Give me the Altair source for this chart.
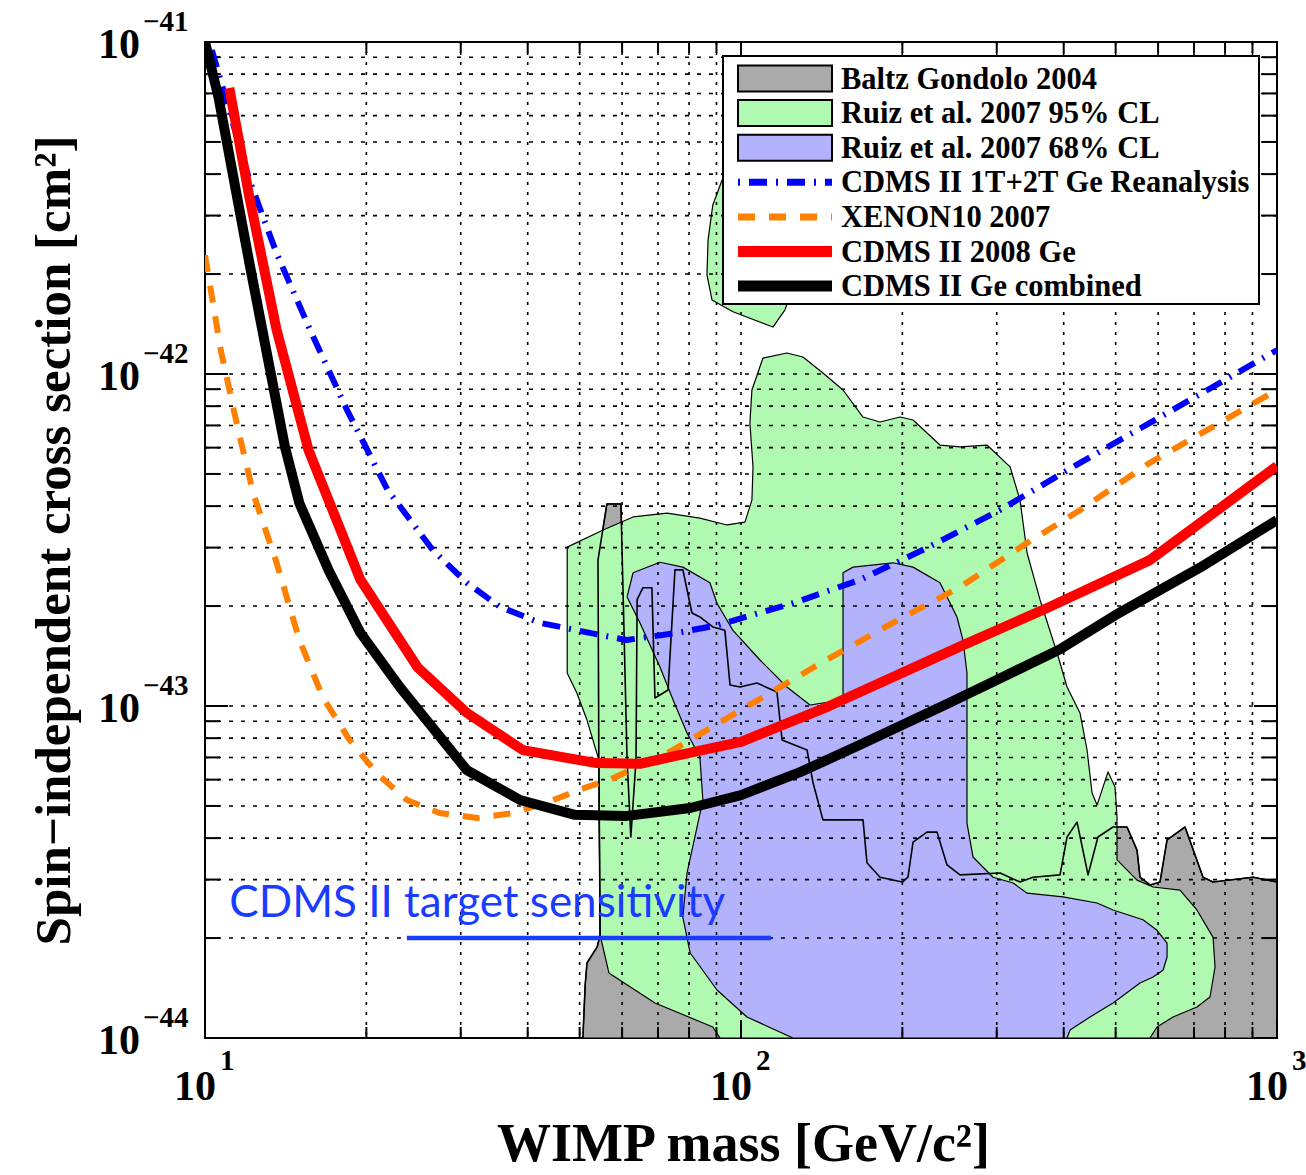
import altair as alt
import pandas as pd

# ---------------- data ----------------
# CDMS II Ge combined (black)
black_mass = [10, 10.6, 12.1, 14.1, 15.0, 17.0, 19.5, 23.1, 30.8, 38.7, 49, 60.8, 80.4, 100,
              128.9, 166.8, 240, 304, 393, 500, 718, 1000]
black_sigma = [1e-41, 6.8e-42, 2.16e-42, 6.03e-43, 4.08e-43, 2.57e-43, 1.66e-43, 1.14e-43, 6.41e-44,
               5.21e-44, 4.70e-44, 4.66e-44, 4.93e-44, 5.39e-44, 6.32e-44, 7.64e-44, 1.007e-43,
               1.21e-43, 1.48e-43, 1.88e-43, 2.61e-43, 3.63e-43]

# CDMS II 2008 Ge (red)
red_mass = [11.1, 12.1, 13.6, 15.6, 19.5, 24.9, 30.8, 39.2, 53.8, 64.8, 81.3, 100, 144.7, 256,
            377, 579, 1000]
red_sigma = [7.27e-42, 3.41e-42, 1.36e-42, 5.90e-43, 2.40e-43, 1.31e-43, 9.53e-44, 7.36e-44,
             6.73e-44, 6.70e-44, 7.26e-44, 7.80e-44, 9.93e-44, 1.51e-43, 1.99e-43, 2.75e-43, 5.28e-43]

# CDMS II 1T+2T Ge Reanalysis (blue dash-dot)
reana_mass = [10.3, 12.1, 13.6, 15.7, 18.4, 21.9, 26.6, 30.8, 35.5, 42.2, 52.2, 61.2, 76.0, 90.2,
              125, 166.8, 222, 304, 429, 579, 1000]
reana_sigma = [9.46e-42, 3.84e-42, 2.31e-42, 1.36e-42, 7.80e-43, 4.48e-43, 2.95e-43, 2.35e-43,
               1.99e-43, 1.78e-43, 1.66e-43, 1.58e-43, 1.66e-43, 1.75e-43, 2.04e-43, 2.40e-43,
               2.99e-43, 3.89e-43, 5.40e-43, 7.12e-43, 1.18e-42]

# XENON10 2007 (orange dashed)
xenon_mass = [10, 10.7, 11.5, 12.3, 13.6, 15.0, 16.6, 18.6, 20.9, 23.8, 27.4, 32.2, 37.6, 44.6,
              51.6, 57.0, 74.6, 100, 144.7, 192, 256, 342, 429, 579, 1000]
xenon_sigma = [2.28e-42, 1.18e-42, 6.92e-43, 4.38e-43, 2.70e-43, 1.58e-43, 1.06e-43, 7.91e-44,
               6.28e-44, 5.21e-44, 4.76e-44, 4.60e-44, 4.76e-44, 5.21e-44, 5.70e-44, 6.0e-44,
               7.36e-44, 9.73e-44, 1.38e-43, 1.78e-43, 2.28e-43, 3.10e-43, 3.89e-43, 5.40e-43, 8.95e-43]

# Ruiz et al. 2007 95% CL (green) main region and small island
green_mass = [47.4, 55.3, 62.9, 72.8, 83.8, 94.2, 101.7, 104.8, 105.3, 103.9, 104.8, 109.9, 121.8,
              130.5, 142.2, 155.0, 168.9, 181.7, 198.1, 209.4, 235.1, 256.2, 287.7, 317.7, 331.6,
              341.8, 361.3, 388.8, 405.8, 429.0, 442.2, 451.8, 461.6, 483.9, 498.7, 502.9, 502.9,
              548.1, 587.1, 659.2, 708.8, 759.8, 766.3, 749.9, 708.8, 639.7, 597.2, 579.4, 91.4,
              88.6, 69.1, 56.7, 54.6, 54.3, 51.6, 49.4, 47.4]
green_sigma = [3.01e-43, 3.39e-43, 3.71e-43, 3.81e-43, 3.68e-43, 3.51e-43, 3.58e-43, 4.17e-43,
               5.25e-43, 7.12e-43, 8.95e-43, 1.117e-42, 1.157e-42, 1.125e-42, 1.007e-42, 8.95e-43,
               7.42e-43, 7.17e-43, 7.42e-43, 7.27e-43, 6.11e-43, 6.03e-43, 6.11e-43, 5.25e-43,
               4.17e-43, 2.89e-43, 2.09e-43, 1.444e-43, 1.141e-43, 9.53e-44, 7.37e-44, 5.47e-44,
               5.03e-44, 6.33e-44, 5.70e-44, 4.63e-44, 3.44e-44, 2.99e-44, 2.85e-44, 2.79e-44,
               2.43e-44, 2.01e-44, 1.636e-44, 1.329e-44, 1.240e-44, 1.157e-44, 1.079e-44, 1e-44,
               1e-44, 1.079e-44, 1.275e-44, 1.570e-44, 2.04e-44, 6.88e-44, 9.07e-44, 1.094e-43,
               1.257e-43]
island_mass = [92.2, 88.6, 86.8, 86.4, 88.3, 96.6, 114.7, 120.8, 126.1, 123.4, 108.5]
island_sigma = [3.84e-42, 3.23e-42, 2.53e-42, 1.99e-42, 1.67e-42, 1.54e-42, 1.385e-42, 1.56e-42,
                1.92e-42, 2.91e-42, 3.84e-42]

# Ruiz et al. 2007 68% CL (blue region)
blue_mass = [61.3, 62.9, 70.6, 77.9, 87.5, 90.2, 96.6, 108.5, 121.8, 134.5, 155.0, 155.0, 161.8,
             192.1, 209.4, 235.1, 252.9, 259.5, 264.0, 264.0, 264.0, 270.9, 295.3, 321.8, 341.8,
             398.8, 461.6, 494.4, 562.3, 597.2, 623.6, 623.6, 612.9, 587.1, 555.2, 494.4, 447.9,
             411.1, 405.8, 125.0, 102.6, 90.2, 80.4, 77.9, 79.3, 84.9, 83.8, 79.3, 74.7, 70.6, 64.8]
blue_sigma = [2.13e-43, 2.52e-43, 2.71e-43, 2.62e-43, 2.35e-43, 2.04e-43, 1.69e-43, 1.376e-43,
              1.141e-43, 1.007e-43, 1.043e-43, 2.52e-43, 2.62e-43, 2.70e-43, 2.62e-43, 2.35e-43,
              1.854e-43, 1.58e-43, 1.257e-43, 6.88e-44, 4.44e-44, 3.51e-44, 3.05e-44, 2.93e-44,
              2.73e-44, 2.66e-44, 2.55e-44, 2.43e-44, 2.27e-44, 2.11e-44, 1.93e-44, 1.754e-44,
              1.60e-44, 1.526e-44, 1.465e-44, 1.275e-44, 1.157e-44, 1.057e-44, 1e-44, 1e-44,
              1.157e-44, 1.395e-44, 1.803e-44, 2.31e-44, 3.14e-44, 5.21e-44, 7.02e-44, 8.29e-44,
              1.043e-43, 1.311e-43, 1.778e-43]

# Baltz Gondolo 2004 (gray region)
baltz_mass = [50.7, 51.2, 51.6, 53.9, 54.6, 54.3, 54.1, 56.2, 59.7, 60.3, 61.3, 62.3, 63.7, 64.0,
              65.6, 68.2, 69.1, 73.1, 75.3, 77.9, 81.0, 83.8, 88.6, 93.3, 95.4, 99.6, 107.1, 116.7,
              119.3, 132.8, 136.3, 142.2, 168.9, 171.8, 181.7, 200, 204.9, 209.4, 222.3, 232.1,
              242.3, 256.2, 304.3, 331.6, 350.6, 393.7, 405.8, 423.6, 444.1, 463.4, 494.4, 525.0,
              548.1, 555.2, 579.4, 604.9, 623.6, 673.6, 727.7, 759.8, 902.4, 1000, 1000]
baltz_sigma = [1e-44, 1.444e-44, 1.682e-44, 1.88e-44, 2.04e-44, 6.88e-44, 2.75e-43, 4.06e-43,
               4.06e-43, 2.09e-43, 6.88e-44, 4.03e-44, 6.88e-44, 2.09e-43, 2.27e-43, 2.27e-43,
               1.057e-43, 1.117e-43, 2.57e-43, 2.57e-43, 1.906e-43, 1.854e-43, 1.73e-43, 1.69e-43,
               1.157e-43, 1.141e-43, 1.173e-43, 1.102e-43, 7.90e-44, 7.37e-44, 5.86e-44, 4.54e-44,
               4.54e-44, 3.37e-44, 3.05e-44, 2.95e-44, 3.05e-44, 3.89e-44, 4.17e-44, 4.17e-44,
               3.32e-44, 3.10e-44, 3.14e-44, 2.95e-44, 3.05e-44, 3.10e-44, 4.03e-44, 4.47e-44,
               3.10e-44, 4.03e-44, 4.32e-44, 4.32e-44, 3.68e-44, 3.05e-44, 2.89e-44, 2.95e-44,
               3.95e-44, 4.32e-44, 3.05e-44, 2.95e-44, 3.05e-44, 2.95e-44, 1e-44]

# annotation
target_label = ["CDMS II target sensitivity"]
target_label_mass = [11.1]
target_label_sigma = [2.31e-44]
target_mass = [23.8, 113.7]
target_sigma = [2e-44, 2e-44]

# axes
x_major = [10, 100, 1000]
x_major_exp = ["1", "2", "3"]
x_minor = [20, 30, 40, 50, 60, 70, 80, 90, 200, 300, 400, 500, 600, 700, 800, 900]
y_major = [1e-44, 1e-43, 1e-42, 1e-41]
y_major_exp = ["\u221244", "\u221243", "\u221242", "\u221241"]
y_minor = [k * 10.0 ** e for e in (-44, -43, -42) for k in range(2, 10)]

legend_labels = ["Baltz Gondolo 2004", "Ruiz et al. 2007 95% CL", "Ruiz et al. 2007 68% CL",
                 "CDMS II 1T+2T Ge Reanalysis", "XENON10 2007", "CDMS II 2008 Ge",
                 "CDMS II Ge combined"]

# ---------------- styling ----------------
W, H = 1072, 996
SERIF = "Liberation Serif"
GRAY, GREEN, LBLUE = "#aaaaaa", "#b0f9b0", "#b2b2fd"
ORANGE, DBLUE, ANNO = "#ff8000", "#0000ff", "#1a3cff"
DASHDOT = [18, 9, 2, 9]
DASHED = [17, 14]

xscale = alt.Scale(type="log", domain=[10, 1000], nice=False)
yscale = alt.Scale(type="log", domain=[1e-44, 1e-41], nice=False)
xaxis = alt.Axis(title="WIMP mass [GeV/c\u00b2]", labels=False, ticks=False, domain=False,
                 grid=False, titleFont=SERIF, titleFontSize=54, titleFontWeight="bold",
                 titleColor="black", titleX=W / 2 + 2, titleY=122, titleBaseline="alphabetic",
                 titleAlign="center")
yaxis = alt.Axis(title="Spin\u2212independent cross section [cm\u00b2]", labels=False,
                 ticks=False, domain=False, grid=False, titleFont=SERIF, titleFontSize=51,
                 titleFontWeight="bold", titleColor="black", titleX=-136, titleY=H / 2,
                 titleAngle=270, titleBaseline="alphabetic", titleAlign="center")


def X():
    return alt.X("mass:Q", scale=xscale, axis=xaxis)


def Y():
    return alt.Y("sigma:Q", scale=yscale, axis=yaxis)


def frame(m, s, close=False):
    m, s = list(m), list(s)
    if close:
        m, s = m + m[:1], s + s[:1]
    return pd.DataFrame({"mass": m, "sigma": s, "idx": range(len(m))})


def polygon(m, s, fill, sw=1.2):
    return alt.Chart(frame(m, s, True)).mark_line(
        fill=fill, stroke="black", strokeWidth=sw, clip=True, strokeJoin="round"
    ).encode(x=X(), y=Y(), order="idx:Q")


def outline(m, s, sw=1.6):
    return alt.Chart(frame(m, s)).mark_line(
        stroke="black", strokeWidth=sw, clip=True, strokeJoin="round"
    ).encode(x=X(), y=Y(), order="idx:Q")


def curve(m, s, color, width, dash=None):
    kw = dict(color=color, strokeWidth=width, clip=True, strokeCap="butt", strokeJoin="round")
    if dash:
        kw["strokeDash"] = dash
    return alt.Chart(frame(m, s)).mark_line(**kw).encode(x=X(), y=Y(), order="idx:Q")


layers = []
# filled regions
layers.append(polygon(baltz_mass, baltz_sigma, GRAY))
layers.append(polygon(green_mass, green_sigma, GREEN))
layers.append(polygon(island_mass, island_sigma, GREEN))
layers.append(polygon(blue_mass, blue_sigma, LBLUE))
layers.append(outline(baltz_mass, baltz_sigma))

# grid lines
layers.append(alt.Chart(pd.DataFrame({"mass": x_minor + [100]})).mark_rule(
    color="black", strokeWidth=1.6, strokeDash=[3, 7]).encode(
    x=X(), y=alt.value(0), y2=alt.value(H)))
layers.append(alt.Chart(pd.DataFrame({"sigma": y_minor + [1e-43, 1e-42]})).mark_rule(
    color="black", strokeWidth=1.6, strokeDash=[4, 8]).encode(
    y=Y(), x=alt.value(0), x2=alt.value(W)))

# inward ticks on all four sides
for vals, ln in ((x_major, 18), (x_minor, 11)):
    d = pd.DataFrame({"mass": vals})
    layers.append(alt.Chart(d).mark_rule(color="black", strokeWidth=2).encode(
        x=X(), y=alt.value(H), y2=alt.value(H - ln)))
    layers.append(alt.Chart(d).mark_rule(color="black", strokeWidth=2).encode(
        x=X(), y=alt.value(0), y2=alt.value(ln)))
for vals, ln in ((y_major, 23), (y_minor, 15)):
    d = pd.DataFrame({"sigma": vals})
    layers.append(alt.Chart(d).mark_rule(color="black", strokeWidth=2).encode(
        y=Y(), x=alt.value(0), x2=alt.value(ln)))
    layers.append(alt.Chart(d).mark_rule(color="black", strokeWidth=2).encode(
        y=Y(), x=alt.value(W - ln), x2=alt.value(W)))

# limit curves
layers.append(curve(reana_mass, reana_sigma, DBLUE, 6, DASHDOT))
layers.append(curve(xenon_mass, xenon_sigma, ORANGE, 6, DASHED))
layers.append(curve(red_mass, red_sigma, "#ff0000", 10))
layers.append(curve(black_mass, black_sigma, "#000000", 10))

# annotation
layers.append(alt.Chart(pd.DataFrame({"mass": target_mass, "sigma": target_sigma})).mark_line(
    color=ANNO, strokeWidth=4.5, strokeCap="butt").encode(x=X(), y=Y()))
layers.append(alt.Chart(pd.DataFrame({"mass": target_label_mass, "sigma": target_label_sigma,
                                      "t": target_label})).mark_text(
    font="Lato", fontSize=44, color=ANNO, align="left", baseline="alphabetic").encode(
    x=X(), y=Y(), text="t:N"))

# tick labels (10 with superscript exponent)
ylab = pd.DataFrame({"sigma": y_major, "b": ["10"] * 4, "e": y_major_exp})
layers.append(alt.Chart(ylab).mark_text(font=SERIF, fontSize=42, fontWeight="bold", color="black",
                                        align="right", baseline="alphabetic", dy=16).encode(
    y=Y(), x=alt.value(-65), text="b:N"))
layers.append(alt.Chart(ylab).mark_text(font=SERIF, fontSize=29, fontWeight="bold", color="black",
                                        align="left", baseline="alphabetic", dy=-11).encode(
    y=Y(), x=alt.value(-62), text="e:N"))
xlab = pd.DataFrame({"mass": x_major, "b": ["10"] * 3, "e": x_major_exp})
layers.append(alt.Chart(xlab).mark_text(font=SERIF, fontSize=42, fontWeight="bold", color="black",
                                        align="center", baseline="alphabetic", dx=-10).encode(
    x=X(), y=alt.value(H + 62), text="b:N"))
layers.append(alt.Chart(xlab).mark_text(font=SERIF, fontSize=29, fontWeight="bold", color="black",
                                        align="left", baseline="alphabetic", dx=15).encode(
    x=X(), y=alt.value(H + 32), text="e:N"))

# legend (drawn by hand inside the plot, top right)
one = pd.DataFrame({"a": [0]})
LX0, LX1, LY0, LY1 = 518, 1054, 14, 262
layers.append(alt.Chart(one).mark_rect(fill="white", stroke="black", strokeWidth=2).encode(
    x=alt.value(LX0), x2=alt.value(LX1), y=alt.value(LY0), y2=alt.value(LY1)))
fills = [GRAY, GREEN, LBLUE]
line_styles = [(DBLUE, 7, DASHDOT), (ORANGE, 7, DASHED), ("#ff0000", 11, None), ("#000000", 11, None)]
for i, lab in enumerate(legend_labels):
    cy = 36.5 + 34.6 * i
    if i < 3:
        layers.append(alt.Chart(one).mark_rect(fill=fills[i], stroke="black", strokeWidth=2).encode(
            x=alt.value(533), x2=alt.value(627), y=alt.value(cy - 13), y2=alt.value(cy + 13)))
    else:
        col, sw, dash = line_styles[i - 3]
        kw = dict(color=col, strokeWidth=sw, strokeCap="butt")
        if dash:
            kw["strokeDash"] = [dash[2], dash[3], dash[0], dash[1]] if dash == DASHDOT else dash
        layers.append(alt.Chart(one).mark_rule(**kw).encode(
            x=alt.value(533), x2=alt.value(627), y=alt.value(cy)))
    layers.append(alt.Chart(one).mark_text(text=lab, font=SERIF, fontSize=30.5, fontWeight="bold",
                                           color="black", align="left",
                                           baseline="alphabetic").encode(
        x=alt.value(636), y=alt.value(cy + 10)))

chart = alt.layer(*layers).properties(
    width=W, height=H,
    padding={"left": 205, "top": 42, "right": 29, "bottom": 137},
    autosize=alt.AutoSizeParams(type="none"),
    background="white",
).configure_view(stroke="black", strokeWidth=2)

chart.save("out.html", embed_options={"renderer": "svg", "actions": False})
